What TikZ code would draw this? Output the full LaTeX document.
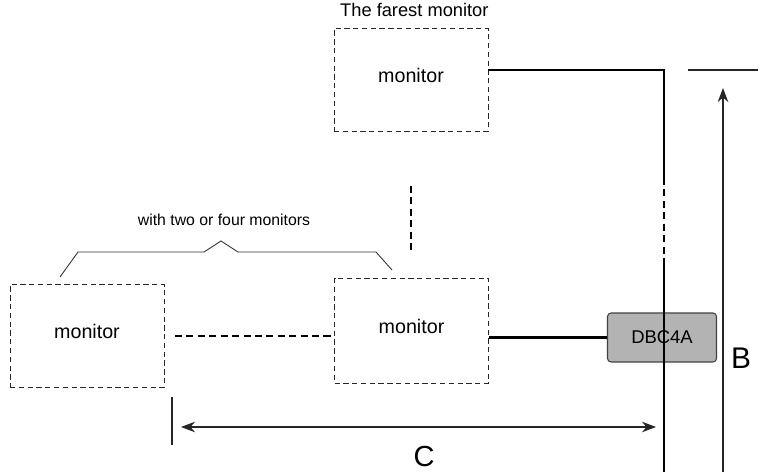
\documentclass[tikz,border=0pt]{standalone}
\usepackage{fontspec}
\setmainfont{Liberation Sans}
\usepackage{tikz}
\usetikzlibrary{arrows.meta,positioning,calc}
\definecolor{boxgray}{HTML}{b3b3b3}
\definecolor{boxedge}{HTML}{404040}

\begin{document}
\begin{tikzpicture}[x=0.02cm,y=-0.02cm,
    monitor/.style={rectangle, draw=black!85, dashed, dash pattern=on 3pt off 2pt,
                    line width=0.55pt, minimum width=3.08cm, minimum height=2.06cm,
                    text depth=5pt, font=\fontsize{11.2}{13}\selectfont},
    unit/.style={rectangle, draw=boxedge, fill=boxgray, rounded corners=2pt,
                 line width=0.6pt, minimum width=2.18cm, minimum height=0.98cm,
                 font=\fontsize{10.5}{12}\selectfont},
    bus/.style={line width=1.2pt, color=black},
    busdash/.style={line width=1.5pt, dash pattern=on 4pt off 2.5pt},
    dim/.style={line width=0.6pt, color=black!85},
    dimarrow/.style={dim, -{Stealth[length=8pt,width=6pt]}},
    dimboth/.style={dim, {Stealth[length=8pt,width=6pt]}-{Stealth[length=8pt,width=6pt]}},
]
\useasboundingbox (0,0) rectangle (770,472);

\node[monitor] (far) at (411,80) {monitor};
\node[monitor, minimum height=2.1cm] (mid) at (411.5,330.5) {monitor};
\node[monitor] (left) at (87,336) {monitor};
\node[unit] (dbc) at (662,337.5) {DBC4A};

\node[font=\fontsize{10.4}{12}\selectfont, anchor=south west] (fartxt) at (334,23) {The farest monitor};
\node[font=\fontsize{9}{11}\selectfont] (grouptxt) at (224,220) {with two or four monitors};
\node[font=\fontsize{17}{20}\selectfont] (blabel) at (741,358) {B};
\node[font=\fontsize{16.5}{20}\selectfont] (clabel) at (424,457) {C};

% bus line
\coordinate (bend) at (664,70);
\coordinate (gaptop) at (664,178);
\coordinate (gapbot) at (664,260);
\coordinate (busend) at (664,472);
\draw[bus] (far.east |- bend) -- (bend) -- (gaptop);
\draw[bus, busdash] (gaptop) -- (gapbot);
\draw[bus] (gapbot) -- (busend);
\draw[bus] (mid.east |- dbc.west) -- (dbc.west);
\draw[bus] (dbc.north -| bend) -- (dbc.south -| bend);

% dashed links between monitors
\draw[busdash] ([xshift=6]left.east) -- (left.east -| mid.west);
\coordinate (vtop) at (411,186);
\coordinate (vbot) at (411,252);
\draw[busdash] (vtop) -- (vbot);

% group brace
\draw[line width=0.5pt, color=black!80] (60,277) -- (78,252) -- (204,252) -- (221,241)
    -- (238,252) -- (376,252) -- (392,270);

% dimensions
\coordinate (btop) at (688,70);
\coordinate (bend2) at (758,70);
\draw[dim] (btop) -- (bend2);
\coordinate (barrowbot) at (723,472);
\coordinate (barrowtop) at (723,88);
\draw[dimarrow] (barrowbot) -- (barrowtop);
\coordinate (ctick1) at (172,397);
\coordinate (ctick2) at (172,445);
\draw[dim] (ctick1) -- (ctick2);
\coordinate (cleft) at (181,427);
\coordinate (cright) at (656,427);
\draw[dimboth] (cleft) -- (cright);

\end{tikzpicture}
\end{document}
